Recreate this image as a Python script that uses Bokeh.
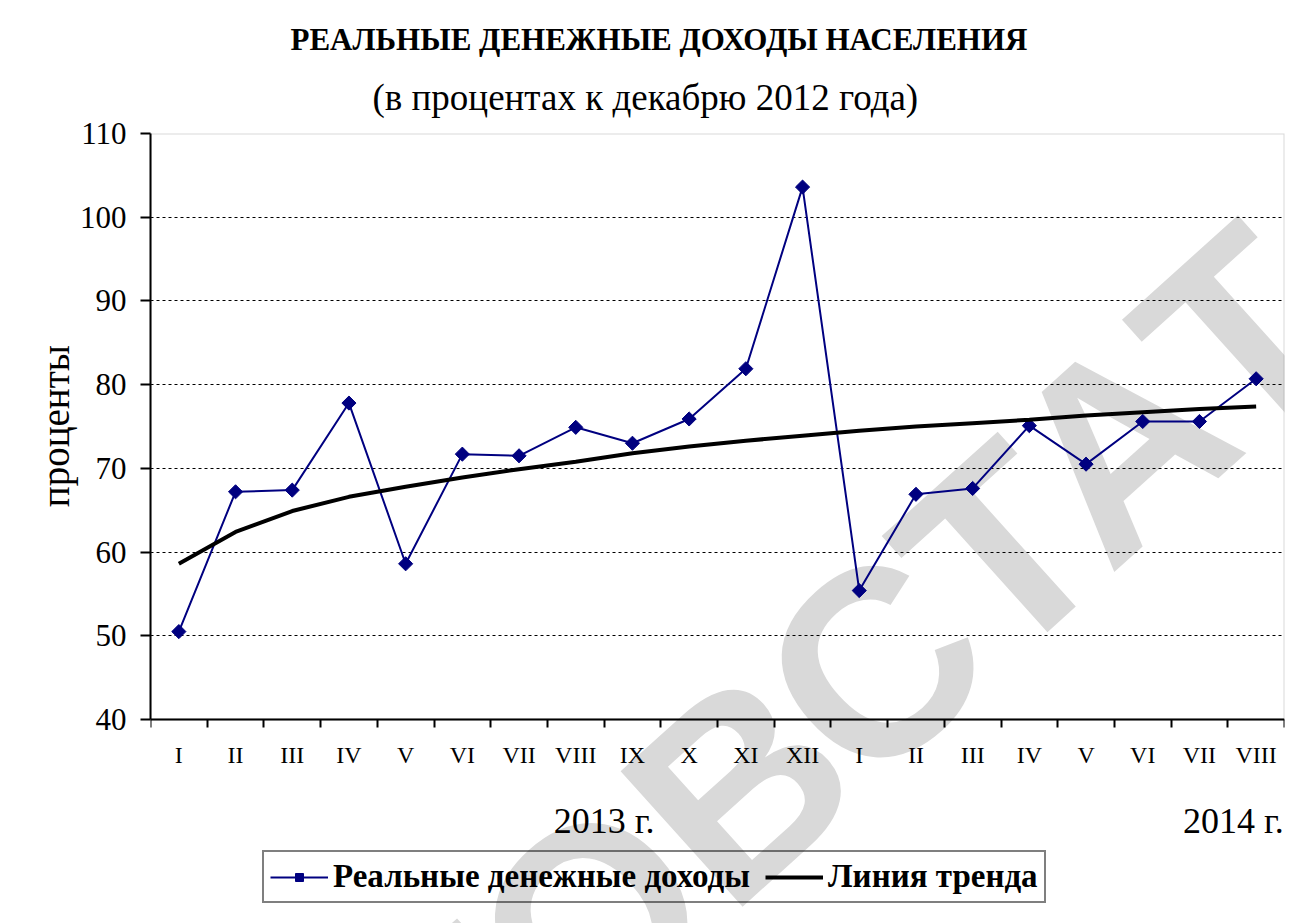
import numpy as np
from bokeh.plotting import figure
from bokeh.models import (Range1d, FixedTicker, Label, Legend, LegendItem, ColumnDataSource,
                          Title, BoxAnnotation)
from bokeh.embed import file_html
from bokeh.resources import INLINE

# ---- data ----
months = ["I", "II", "III", "IV", "V", "VI", "VII", "VIII", "IX", "X", "XI", "XII",
          "I", "II", "III", "IV", "V", "VI", "VII", "VIII"]
income = [50.5, 67.2, 67.4, 77.8, 58.6, 71.7, 71.5, 74.9, 73.0, 75.9, 81.9, 103.6,
          55.4, 66.9, 67.6, 75.1, 70.5, 75.6, 75.6, 80.7]
trend = [58.6, 62.4, 64.9, 66.6, 67.8, 68.9, 69.9, 70.8, 71.8, 72.6, 73.3, 73.9,
         74.5, 75.0, 75.4, 75.8, 76.3, 76.7, 77.1, 77.4]
y_ticks = [40, 50, 60, 70, 80, 90, 100, 110]
title_text = "РЕАЛЬНЫЕ ДЕНЕЖНЫЕ ДОХОДЫ НАСЕЛЕНИЯ"
subtitle_text = "(в процентах к декабрю 2012 года)"
year_labels = ["2013 г.", "2014 г."]
series_names = ["Реальные денежные доходы", "Линия тренда"]
y_label = "проценты"
watermark = "РОСТОВСТАТ"

# ---- layout (pixels) ----
year_pos = [8.0, 19.1]          # along the month axis
PLOT_H = 586                    # height of the 40..110 area
BELOW_H = 204                   # room under the x axis for year labels and legend
LABEL_LIFT = 21                 # no-break spaces that lift the y label to the 40..110 middle
SERIF = "Liberation Serif"

n = len(months)
xs = [i + 0.5 for i in range(n)]
src = ColumnDataSource(dict(x=xs, income=income, trend=trend))

y_lo = y_ticks[0] - BELOW_H * (y_ticks[-1] - y_ticks[0]) / PLOT_H
p = figure(frame_width=1134, frame_height=PLOT_H + BELOW_H,
           x_range=Range1d(0, n), y_range=Range1d(y_lo, y_ticks[-1]),
           output_backend="svg", toolbar_location=None,
           min_border_left=150, min_border_right=13, min_border_top=133, min_border_bottom=0)
p.background_fill_color = "white"
p.border_fill_color = "white"
p.outline_line_color = None

# gray border of the plotting area
p.add_layout(BoxAnnotation(left=0, right=n, bottom=y_ticks[0], top=y_ticks[-1],
                           fill_alpha=0, line_color="#808080", line_width=2, level="underlay"))

# titles
p.title.text = title_text
p.title.text_font = SERIF
p.title.text_font_style = "bold"
p.title.text_font_size = "31px"
p.title.text_color = "black"
p.title.align = "left"
p.title.offset = 140
p.title.standoff = 6
sub = Title(text=subtitle_text, text_font=SERIF, text_font_style="normal",
            text_font_size="37px", text_color="black", align="left", offset=222, standoff=31)
p.add_layout(sub, "above")

# watermark
wm = Label(x=1150, y=439 + BELOW_H, x_units="screen", y_units="screen", text=watermark,
           angle=42, angle_units="deg", text_align="right", text_baseline="alphabetic",
           text_font="Liberation Sans", text_font_style="bold", text_font_size="265px",
           text_color="#d9d9d9", level="image")
p.add_layout(wm)

# grid
p.xgrid.visible = False
p.ygrid.ticker = FixedTicker(ticks=y_ticks[1:-1])
p.ygrid.grid_line_color = "black"
p.ygrid.grid_line_dash = "3 3"
p.ygrid.grid_line_width = 1

# y axis
ya = p.yaxis[0]
ya.ticker = FixedTicker(ticks=y_ticks)
ya.bounds = (y_ticks[0], y_ticks[-1])
ya.axis_line_width = 2
ya.axis_line_color = "black"
ya.major_tick_line_width = 2
ya.major_tick_out = 10
ya.major_tick_in = 0
ya.minor_tick_line_color = None
ya.major_label_text_font = SERIF
ya.major_label_text_font_size = "31px"
ya.major_label_text_color = "black"
ya.major_label_standoff = 14
ya.axis_label = "\u00a0" * LABEL_LIFT + y_label
ya.axis_label_text_font = SERIF
ya.axis_label_text_font_size = "39px"
ya.axis_label_text_font_style = "normal"
ya.axis_label_text_color = "black"
ya.axis_label_standoff = 0

# x axis at y = 40, labels between boundary ticks
xa = p.xaxis[0]
xa.fixed_location = y_ticks[0]
xa.ticker = FixedTicker(ticks=xs, minor_ticks=list(range(n + 1)))
xa.major_label_overrides = {xv: m for xv, m in zip(xs, months)}
xa.axis_line_width = 2
xa.axis_line_color = "black"
xa.major_tick_out = 0
xa.major_tick_in = 0
xa.minor_tick_out = 8
xa.minor_tick_in = 0
xa.minor_tick_line_color = "black"
xa.minor_tick_line_width = 2
xa.major_label_text_font = SERIF
xa.major_label_text_font_size = "24px"
xa.major_label_text_color = "black"
xa.major_label_standoff = 14

# year labels
for xp, t in zip(year_pos, year_labels):
    p.add_layout(Label(x=xp, y=BELOW_H - 101, x_units="data", y_units="screen", text=t,
                       text_align="center", text_baseline="middle", text_font=SERIF,
                       text_font_size="36px", text_color="black"))

# series
line_r = p.line("x", "income", source=src, line_color="#000080", line_width=2)
mark_r = p.scatter("x", "income", source=src, marker="square", angle=np.pi / 4, size=10,
                   fill_color="#000080", line_color="#000080")
trend_r = p.line("x", "trend", source=src, line_color="black", line_width=4)

legend = Legend(items=[LegendItem(label=series_names[0], renderers=[line_r, mark_r]),
                       LegendItem(label=series_names[1], renderers=[trend_r])],
                location=(112, 20), orientation="horizontal",
                label_text_font=SERIF, label_text_font_style="bold",
                label_text_font_size="33px", label_text_color="black",
                border_line_color="black", border_line_width=2,
                background_fill_alpha=0, glyph_width=58, glyph_height=20,
                label_standoff=5, spacing=15, padding=6, margin=0)
p.add_layout(legend)

open("out.html", "w").write(file_html(p, INLINE))
